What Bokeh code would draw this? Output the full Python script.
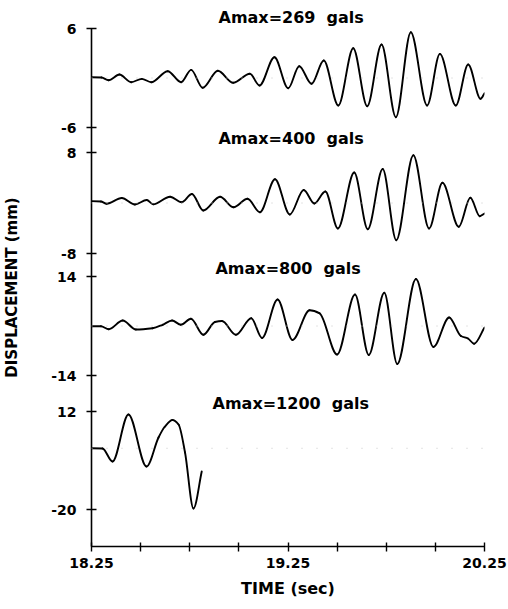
import numpy as np
from bokeh.plotting import figure
from bokeh.models import Range1d, FixedTicker, Span, LabelSet, ColumnDataSource, Title
from bokeh.core.properties import value
from bokeh.embed import file_html
from bokeh.resources import INLINE

# ---------------- data ----------------
# time (sec) and displacement (mm) at the turning points of each record
t1 = [18.250, 18.301, 18.337, 18.392, 18.452, 18.506, 18.554, 18.638, 18.706, 18.757,
      18.816, 18.893, 18.971, 19.056, 19.105, 19.181, 19.251, 19.307, 19.370, 19.432,
      19.506, 19.582, 19.653, 19.726, 19.799, 19.875, 19.958, 20.023, 20.104, 20.167,
      20.230, 20.250]
d1 = [0.10, 0.06, -0.27, 0.42, -0.51, -0.10, -0.51, 0.82, -0.51, 0.99,
      -1.19, 0.87, -0.58, 0.51, -0.91, 2.52, -1.24, 1.43, -0.70, 2.12,
      -3.33, 3.61, -3.42, 4.06, -4.75, 5.55, -3.33, 2.93, -3.33, 1.64,
      -2.52, -1.84]

t2 = [18.250, 18.298, 18.327, 18.404, 18.471, 18.531, 18.564, 18.650, 18.709, 18.761,
      18.819, 18.904, 18.973, 19.044, 19.107, 19.184, 19.259, 19.330, 19.384, 19.440,
      19.504, 19.587, 19.656, 19.732, 19.801, 19.888, 19.968, 20.036, 20.119, 20.178,
      20.226, 20.250]
d2 = [0.29, 0.24, -0.13, 0.79, -0.24, 0.48, -0.21, 1.00, 0.13, 1.43,
      -1.19, 0.98, -0.67, 0.67, -1.46, 3.77, -1.82, 2.06, -0.08, 1.82,
      -4.04, 4.83, -4.15, 5.39, -5.89, 7.57, -4.04, 3.20, -3.77, 0.82,
      -2.09, -1.66]

t3 = [18.250, 18.298, 18.338, 18.409, 18.476, 18.561, 18.612, 18.660, 18.705, 18.756,
      18.819, 18.878, 18.914, 18.985, 19.063, 19.118, 19.197, 19.273, 19.360, 19.411,
      19.500, 19.591, 19.661, 19.740, 19.806, 19.901, 19.990, 20.070, 20.130, 20.166,
      20.197, 20.250]
d3 = [-0.06, -0.08, -0.90, 1.56, -0.99, -0.62, 0.34, 1.56, 0.34, 2.04,
      -2.49, 1.13, 1.41, -2.49, 2.21, -3.39, 7.49, -3.96, 4.44, 3.59,
      -8.06, 8.91, -8.20, 9.41, -10.75, 13.29, -5.94, 2.40, -2.83, -3.54,
      -5.01, -0.42]

t4 = [18.250, 18.306, 18.357, 18.438, 18.530, 18.591, 18.622, 18.662, 18.693, 18.726,
      18.769, 18.811]
d4 = [0.00, -0.08, -4.33, 11.02, -5.96, 3.51, 6.94, 9.22, 7.76, -1.39,
      -19.67, -7.59]

amax = [269, 400, 800, 1200]          # gals
tick_hi = [6, 8, 14, 12]              # mm, upper tick of each record
tick_lo = [-6, -8, -14, -20]          # mm, lower tick of each record
time_ticks = [18.25, 19.25, 20.25]
time_minor = [18.5, 18.75, 19.0, 19.5, 19.75, 20.0]

# ---------------- layout ----------------
FRAME_TOP = 518                       # frame height in px (main y range is in px)
U_HI = [518, 394, 270, 135]           # where each record's upper tick sits
U_LO = [419, 293, 171, 37]            # where each record's lower tick sits
LABEL_U = [408, 278, 143]             # records 2-4 (record 1 sits above the frame)
LABEL_T = [18.896, 18.881, 18.866]
TOP_LABEL_OFFSET = 127                # px from the frame's left edge

FONT = "DejaVu Sans"
labels = [f"Amax={a} \u00a0gals" for a in amax]

p = figure(width=508, height=605, output_backend="svg", toolbar_location=None,
           x_range=Range1d(18.25, 20.25), y_range=Range1d(0, FRAME_TOP),
           min_border_left=91, min_border_right=24, min_border_top=28,
           min_border_bottom=59)
p.background_fill_color = "white"
p.border_fill_color = "white"
p.outline_line_color = None
p.xgrid.visible = False
p.ygrid.visible = False


def hermite_bezier(t, d):
    """Smooth drawing between read points: horizontal tangents at turning points."""
    t = np.asarray(t, float)
    d = np.asarray(d, float)
    dt = np.diff(t)
    sec = np.diff(d) / dt
    m = np.zeros_like(d)
    for i in range(1, len(d) - 1):
        a, b = sec[i - 1], sec[i]
        if a * b > 0:
            m[i] = 2.0 / (1.0 / a + 1.0 / b)
    m[-1] = sec[-1]
    return dict(x0=t[:-1], y0=d[:-1], x1=t[1:], y1=d[1:],
                cx0=t[:-1] + dt / 3, cy0=d[:-1] + m[:-1] * dt / 3,
                cx1=t[1:] - dt / 3, cy1=d[1:] - m[1:] * dt / 3)


series = [(t1, d1), (t2, d2), (t3, d3), (t4, d4)]
ticks = []
overrides = {}
for i, (t, d) in enumerate(series):
    s = (U_HI[i] - U_LO[i]) / (tick_hi[i] - tick_lo[i])
    start = tick_lo[i] - U_LO[i] / s
    end = start + FRAME_TOP / s
    name = f"rec{i}"
    p.extra_y_ranges[name] = Range1d(start, end)
    p.add_layout(Span(location=0, dimension="width", y_range_name=name,
                      line_color="#c8c8c8", line_width=1, line_dash="1 14"))
    p.bezier(**hermite_bezier(t, d), line_color="black", line_width=1.9,
             line_cap="round", y_range_name=name)
    ticks += [U_HI[i], U_LO[i]]
    overrides[U_HI[i]] = str(tick_hi[i])
    overrides[U_LO[i]] = str(tick_lo[i])

# label of the first record sits above the frame
p.add_layout(Title(text=labels[0], align="left", offset=TOP_LABEL_OFFSET,
                   text_font=FONT, text_font_size="16px", text_font_style="bold",
                   text_color="black", standoff=3), "above")

lab_src = ColumnDataSource(dict(t=LABEL_T, u=LABEL_U, text=labels[1:]))
p.add_layout(LabelSet(x="t", y="u", text="text", source=lab_src,
                      text_font=value(FONT), text_font_size=value("16px"),
                      text_font_style="bold", text_color="black",
                      text_baseline="middle", text_align="left"))

# y axis
ya = p.yaxis[0]
ya.ticker = FixedTicker(ticks=ticks, minor_ticks=[])
ya.major_label_overrides = overrides
ya.axis_label = "DISPLACEMENT (mm)"
ya.axis_label_text_font = FONT
ya.axis_label_text_font_size = "15px"
ya.axis_label_text_font_style = "bold"
ya.axis_label_standoff = 27
ya.major_label_text_font = FONT
ya.major_label_text_font_size = "14px"
ya.major_label_text_font_style = "bold"
ya.major_label_standoff = 10
ya.major_tick_in = 5
ya.major_tick_out = 5
ya.axis_line_width = 1.6
ya.major_tick_line_width = 1.4
ya.axis_line_color = "black"
ya.major_tick_line_color = "black"
ya.major_label_text_color = "black"
ya.axis_label_text_color = "black"

# x axis
xa = p.xaxis[0]
xa.ticker = FixedTicker(ticks=time_ticks, minor_ticks=time_minor)
xa.major_label_overrides = {v: f"{v:.2f}" for v in time_ticks}
xa.axis_label = "TIME (sec)"
xa.axis_label_text_font = FONT
xa.axis_label_text_font_size = "16px"
xa.axis_label_text_font_style = "bold"
xa.axis_label_standoff = 8
xa.major_label_text_font = FONT
xa.major_label_text_font_size = "14px"
xa.major_label_text_font_style = "bold"
xa.major_label_standoff = 6
xa.major_tick_in = 4
xa.major_tick_out = 5
xa.minor_tick_in = 4
xa.minor_tick_out = 5
xa.axis_line_width = 1.6
xa.major_tick_line_width = 1.4
xa.minor_tick_line_width = 1.4
xa.axis_line_color = "black"
xa.major_tick_line_color = "black"
xa.minor_tick_line_color = "black"
xa.major_label_text_color = "black"
xa.axis_label_text_color = "black"

open("out.html", "w").write(file_html(p, INLINE))
